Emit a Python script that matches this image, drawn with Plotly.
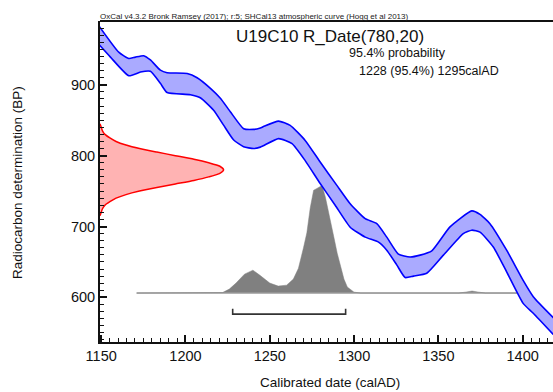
import plotly.graph_objects as go

# ---------------- data ----------------
# Calibration curve (SHCal13) band edges
curve_upper_year = [1149, 1160.4, 1166.4, 1170.3, 1175.2, 1179.2, 1185.1, 1189.1, 1201, 1206.9,
                    1214.8, 1220.7, 1226.6, 1234.5, 1240.4, 1244.4, 1246.3, 1255.2, 1262.1, 1271,
                    1279.9, 1289.8, 1297.7, 1306.6, 1313.5, 1319.4, 1326.3, 1333.2, 1339.2, 1346.1,
                    1356.9, 1369.8, 1374.7, 1380.6, 1390.5, 1400.3, 1406.3, 1420]
curve_upper_bp = [982, 946, 937, 939, 941, 935, 920.6, 917, 916, 910,
                  895, 881, 862, 838, 837, 839, 841, 848.7, 842.7, 821.5,
                  791, 758, 732, 711, 704, 685, 661, 657, 659.6, 665.6,
                  699.4, 722, 717, 704, 666.6, 624, 601, 567]
curve_lower_year = [1149, 1155.5, 1166.4, 1173.3, 1179.2, 1185.1, 1189.1, 1202.9, 1208.8, 1216.7,
                    1222.6, 1228.6, 1234.5, 1240.4, 1244.4, 1255.2, 1263.2, 1271, 1279.9, 1288.8,
                    1297.7, 1306.6, 1314.5, 1319.4, 1325.4, 1330.3, 1335.2, 1343.1, 1353, 1364.8,
                    1369.8, 1374.7, 1382.6, 1390.5, 1400.3, 1406.3, 1420]
curve_lower_bp = [956, 939, 912.7, 918, 919, 902, 889, 886, 881.7, 864,
                  843, 822, 812.7, 810, 812, 824, 817, 793, 760.6, 730,
                  699, 685, 678, 666.6, 645.5, 628, 630, 634, 659.6, 690,
                  694.8, 692, 671, 636, 591.5, 577.5, 543]

# Radiocarbon date 780 +/- 20 BP: relative probability
red_bp = [715, 720, 725, 730, 735, 740, 745, 750, 755, 760, 765, 770, 775, 780,
          785, 790, 795, 800, 805, 810, 815, 820, 825, 830, 835, 840, 845]
red_prob = [0.0, 0.01, 0.02, 0.04, 0.08, 0.13, 0.21, 0.32, 0.46, 0.61, 0.76, 0.88, 0.97, 1.0,
            0.97, 0.88, 0.76, 0.61, 0.46, 0.32, 0.21, 0.13, 0.08, 0.04, 0.02, 0.01, 0.0]

# Calibrated date: relative probability
cal_year = [1171, 1218, 1222, 1226, 1230, 1235, 1240, 1244, 1250, 1255, 1260, 1264, 1267,
            1270, 1272, 1274, 1276, 1278, 1280, 1281, 1283, 1285.5, 1288, 1290, 1292, 1294,
            1296, 1300, 1304, 1362, 1366, 1370, 1374, 1378, 1399]
cal_prob = [0.0, 0.0, 0.005, 0.037, 0.093, 0.176, 0.213, 0.167, 0.093, 0.065, 0.074, 0.13, 0.23,
            0.42, 0.56, 0.79, 0.954, 0.972, 0.99, 1.0, 0.89, 0.69, 0.52, 0.37, 0.24, 0.13,
            0.056, 0.009, 0.0, 0.0, 0.009, 0.019, 0.009, 0.0, 0.0]

range_start, range_end = 1228, 1295   # 95.4% range

x_ticks = [1150, 1200, 1250, 1300, 1350, 1400]
y_ticks = [600, 700, 800, 900]

# ---------------- layout constants ----------------
X_MIN, X_MAX = 1149.3, 1418
Y_MIN, Y_MAX = 537, 990
RED_AMP = 73.3          # years of x span for peak of red curve
CAL_BASE = 606          # BP baseline for grey distribution
CAL_AMP = 152           # BP height of grey peak
BRACKET_Y, BRACKET_TOP = 576.4, 583.8

FONT = "Liberation Sans, Arial, sans-serif"

fig = go.Figure()

# grey calibrated distribution
fig.add_trace(go.Scatter(x=[cal_year[0], cal_year[-1]], y=[CAL_BASE, CAL_BASE], mode="lines",
                         line=dict(color="#9a9a9a", width=1.5), hoverinfo="skip", showlegend=False))
fig.add_trace(go.Scatter(x=cal_year, y=[CAL_BASE + p * CAL_AMP for p in cal_prob], mode="lines",
                         line=dict(color="#808080", width=0.5), fill="tonexty", fillcolor="#808080",
                         hoverinfo="skip", showlegend=False))

# red radiocarbon date distribution
red_x = [X_MIN + p * RED_AMP for p in red_prob]
fig.add_trace(go.Scatter(x=red_x, y=red_bp, mode="lines", fill="toself", fillcolor="#ffb3b3",
                         line=dict(color="#ff0000", width=1.5, shape="spline", smoothing=0.6),
                         hoverinfo="skip", showlegend=False))

# calibration curve band
band_x = curve_upper_year + curve_lower_year[::-1]
band_y = curve_upper_bp + curve_lower_bp[::-1]
fig.add_trace(go.Scatter(x=band_x, y=band_y, mode="lines", fill="toself", fillcolor="#aaaaff",
                         line=dict(color="rgba(0,0,0,0)", width=0, shape="spline", smoothing=0.5),
                         hoverinfo="skip", showlegend=False))
for xs, ys in ((curve_upper_year, curve_upper_bp), (curve_lower_year, curve_lower_bp)):
    fig.add_trace(go.Scatter(x=xs, y=ys, mode="lines",
                             line=dict(color="#0000ff", width=1.6, shape="spline", smoothing=0.5),
                             hoverinfo="skip", showlegend=False))

# 95.4% range bracket
fig.add_trace(go.Scatter(x=[range_start, range_start, range_end, range_end],
                         y=[BRACKET_TOP, BRACKET_Y, BRACKET_Y, BRACKET_TOP], mode="lines",
                         line=dict(color="#333333", width=1.6), hoverinfo="skip", showlegend=False))

# top frame line
fig.add_shape(type="line", xref="paper", yref="paper", x0=0, x1=1, y0=1, y1=1,
              line=dict(color="#111111", width=2))

W, H = 553, 392
L, R, T, B = 100, 0, 21, 50
PW, PH = W - L - R, H - T - B


def px(xp):
    return (xp - L) / PW


def py(yp):
    return (H - B - yp) / PH


anns = [
    dict(text="OxCal v4.3.2 Bronk Ramsey (2017); r:5; SHCal13 atmospheric curve (Hogg et al 2013)",
         x=px(97.5), y=py(16.5), xanchor="left", yanchor="middle", font=dict(size=8, color="#222")),
    dict(text="U19C10 R_Date(780,20)", x=px(330), y=py(36), xanchor="center", yanchor="middle",
         font=dict(size=17, color="#111")),
    dict(text="95.4% probability", x=px(347), y=py(53), xanchor="left", yanchor="middle",
         font=dict(size=12.5, color="#111")),
    dict(text="1228 (95.4%) 1295calAD", x=px(357), y=py(71), xanchor="left", yanchor="middle",
         font=dict(size=12.5, color="#111")),
    dict(text="Calibrated date (calAD)", x=px(330), y=py(383), xanchor="center", yanchor="middle",
         font=dict(size=13.5, color="#111")),
    dict(text="Radiocarbon determination (BP)", x=px(17.5), y=py(182.5), xanchor="center",
         yanchor="middle", textangle=-90, font=dict(size=13.5, color="#111")),
]
for a in anns:
    a.update(xref="paper", yref="paper", showarrow=False)

fig.update_layout(
    width=W, height=H, margin=dict(l=L, r=R, t=T, b=B, pad=0),
    paper_bgcolor="white", plot_bgcolor="white",
    font=dict(family=FONT, color="#111"),
    annotations=anns, showlegend=False,
    xaxis=dict(range=[X_MIN, X_MAX], tickvals=x_ticks, ticks="inside", ticklen=7, tickwidth=1.5,
               tickcolor="#111", showline=True, linecolor="#111", linewidth=2, showgrid=False,
               zeroline=False, tickfont=dict(size=14.5, color="#111"),
               minor=dict(dtick=5, tick0=1150, ticks="inside", ticklen=4, tickwidth=1, tickcolor="#111",
                          showgrid=False)),
    yaxis=dict(range=[Y_MIN, Y_MAX], tickvals=y_ticks, ticks="inside", ticklen=7, tickwidth=1.5,
               tickcolor="#111", showline=True, linecolor="#111", linewidth=2, showgrid=False,
               zeroline=False, tickfont=dict(size=14.5, color="#111"),
               minor=dict(dtick=10, tick0=600, ticks="inside", ticklen=4, tickwidth=1, tickcolor="#111",
                          showgrid=False)),
)

fig.write_html("out.html")
